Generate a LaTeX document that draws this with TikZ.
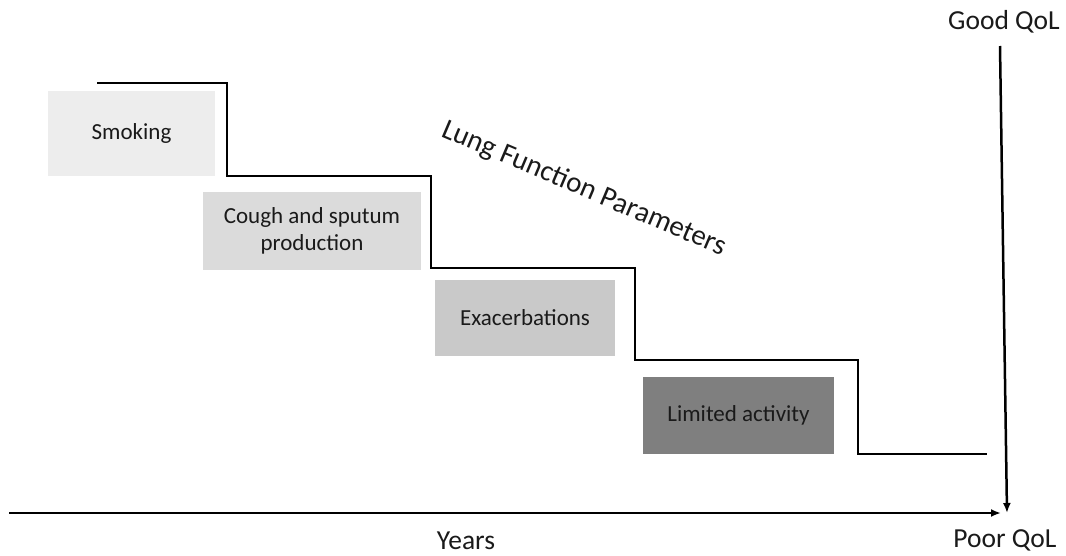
\documentclass[tikz,border=0pt]{standalone}
\usepackage{fontspec}
\setmainfont{Carlito}
\usetikzlibrary{arrows.meta}
\definecolor{boxA}{HTML}{EDEDED}
\definecolor{boxB}{HTML}{DBDBDB}
\definecolor{boxC}{HTML}{C9C9C9}
\definecolor{boxD}{HTML}{7F7F7F}
\definecolor{txt}{HTML}{1A1A1A}
\tikzset{
  stagebox/.style={draw=none, inner sep=0pt, align=center, text=txt,
    font=\fontsize{23}{27}\selectfont},
  axislabel/.style={inner sep=0pt, text=txt, font=\fontsize{27.5}{32}\selectfont},
  stair/.style={line width=2.5pt, line join=miter},
  axis/.style={line width=2.5pt, -{Latex[length=10pt,width=8pt]}}
}
\begin{document}
\begin{tikzpicture}[x=1pt,y=-1pt]
\useasboundingbox (0,0) rectangle (1066,555);
% boxes
\node[stagebox, fill=boxA, minimum width=167pt, minimum height=85pt] (smk) at (131.5,133.5) {Smoking};
\node[stagebox, fill=boxB, minimum width=218pt, minimum height=78pt] (cgh) at (312,231) {Cough and sputum\\production};
\node[stagebox, fill=boxC, minimum width=180pt, minimum height=76pt] (exa) at (525,318) {Exacerbations};
\node[stagebox, fill=boxD, minimum width=191pt, minimum height=77pt] (lim) at (738.5,415.5) {Limited activity};
% staircase
\draw[stair] (97,83) -- (227,83) -- (227,176) -- (431,176) -- (431,268) -- (635,268) -- (635,360) -- (858,360) -- (858,454) -- (987,454);
% label
\node[rotate=-23, inner sep=0pt, text=txt, font=\fontsize{29}{34}\selectfont] (lfp) at (584,189) {Lung Function Parameters};
% axes
\coordinate (xs) at (9,513);
\coordinate (xe) at (1001,513);
\coordinate (ys) at (1000,46);
\coordinate (ye) at (1007,513);
\draw[axis] (xs) -- (xe);
\draw[axis] (ys) -- (ye);
\node[axislabel] (good) at (1004,22) {Good QoL};
\node[axislabel] (poor) at (1005,540) {Poor QoL};
\node[axislabel] (yrs) at (466,541) {Years};
\end{tikzpicture}
\end{document}
